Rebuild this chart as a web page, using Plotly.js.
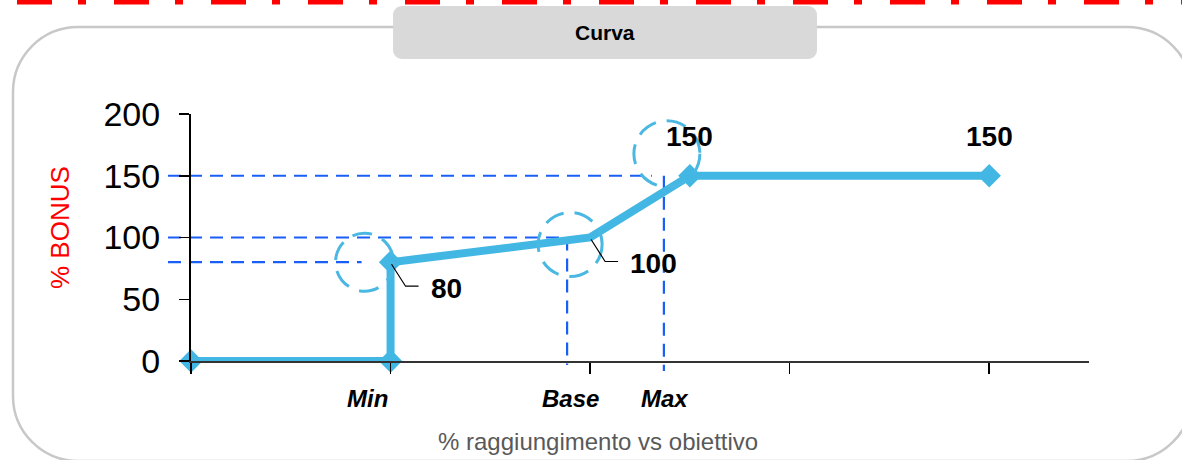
<!DOCTYPE html>
<html>
<head>
<meta charset="utf-8">
<script src="https://cdn.plot.ly/plotly-3.0.1.min.js"></script>
<style>
  html, body { margin: 0; padding: 0; background: #ffffff; }
  #chart { width: 1182px; height: 460px; }
</style>
</head>
<body>
<div id="chart"></div>
<script>
// ---------------- data ----------------
const achievement = [0, 1, 1, 2, 2.5, 4];          // position on the "% raggiungimento" axis
const bonus       = [0, 0, 80, 100, 150, 150];     // % BONUS
const showMarker  = [true, true, true, false, true, true];
const labelIdx    = [2, 3, 4, 5];                  // points carrying a value label
const xTickVals   = [0, 1, 2, 3, 4];
const yTickVals   = [0, 50, 100, 150, 200];
const thresholdNames = ['Min', 'Base', 'Max'];
const thresholdIdx   = [2, 3, 4];                  // Min -> (1,80), Base -> (2,100), Max -> (2.5,150)
const titleText  = 'Curva';
const xTitleText = '% raggiungimento vs obiettivo';
const yTitleText = '% BONUS';

// ---------------- geometry helpers ----------------
const W = 1182, H = 460;
const M = { l: 191, r: 93, t: 114, b: 99 };
const PW = W - M.l - M.r, PH = H - M.t - M.b;
const X_MAX = 4.5, Y_MAX = 200;
const px2x = px => (px - M.l) / PW;
const py2y = py => (H - M.b - py) / PH;
const xPix = v => M.l + v * PW / X_MAX;
const yPix = v => H - M.b - v * PH / Y_MAX;
const pt = (px, py) => px2x(px).toFixed(5) + ',' + py2y(py).toFixed(5);

const FONT = 'Arial, "Liberation Sans", sans-serif';
const LINE_BLUE = '#43b7e3';
const GUIDE_BLUE = '#1a5ff5';

function roundRect(x0, y0, x1, y1, r) {
  const k = 0.5523 * r;
  return 'M' + pt(x0 + r, y0) +
    ' L' + pt(x1 - r, y0) +
    ' C' + pt(x1 - r + k, y0) + ' ' + pt(x1, y0 + r - k) + ' ' + pt(x1, y0 + r) +
    ' L' + pt(x1, y1 - r) +
    ' C' + pt(x1, y1 - r + k) + ' ' + pt(x1 - r + k, y1) + ' ' + pt(x1 - r, y1) +
    ' L' + pt(x0 + r, y1) +
    ' C' + pt(x0 + r - k, y1) + ' ' + pt(x0, y1 - r + k) + ' ' + pt(x0, y1 - r) +
    ' L' + pt(x0, y0 + r) +
    ' C' + pt(x0, y0 + r - k) + ' ' + pt(x0 + r - k, y0) + ' ' + pt(x0 + r, y0) + ' Z';
}

const shapes = [];
const annotations = [];

// slide decorations
shapes.push({ type: 'line', xref: 'paper', yref: 'paper', layer: 'below',
  x0: px2x(17), x1: px2x(1200), y0: py2y(0), y1: py2y(0),
  line: { color: '#ff0000', width: 9, dash: '35px,26px,8px,28px' } });
shapes.push({ type: 'path', xref: 'paper', yref: 'paper', layer: 'below',
  path: roundRect(13, 27, 1192, 461, 65), line: { color: '#c8c8c8', width: 2.5 } });
shapes.push({ type: 'path', xref: 'paper', yref: 'paper', layer: 'below',
  path: roundRect(393, 6, 817, 59, 9), fillcolor: '#d9d9d9', line: { width: 0 } });
annotations.push({ xref: 'paper', yref: 'paper', x: px2x(605), y: py2y(33),
  xanchor: 'center', yanchor: 'middle', showarrow: false, text: '<b>' + titleText + '</b>',
  font: { family: FONT, size: 21, color: '#000000' } });

// guide (dashed) lines tied to the threshold points
const pMin = thresholdIdx[0], pBase = thresholdIdx[1], pMax = thresholdIdx[2];
const baseGuideX = xPix(achievement[pBase]) - 23;
const maxGuideX  = xPix(achievement[pMax]) - 26;
const guideStyle = { color: GUIDE_BLUE, width: 2.2, dash: '13px,8px' };
function guide(x0, y0, x1, y1) {
  shapes.push({ type: 'line', xref: 'paper', yref: 'paper', layer: 'below',
    x0: px2x(x0), y0: py2y(y0), x1: px2x(x1), y1: py2y(y1), line: guideStyle });
}
guide(168, yPix(bonus[pMax]), maxGuideX - 12, yPix(bonus[pMax]));
guide(168, yPix(bonus[pBase]), baseGuideX, yPix(bonus[pBase]));
guide(168, yPix(bonus[pMin]), xPix(achievement[pMin]) - 29, yPix(bonus[pMin]));
guide(baseGuideX, yPix(bonus[pBase]), baseGuideX, yPix(0) + 4);
guide(maxGuideX, yPix(bonus[pMax]), maxGuideX, yPix(0) + 10);

// dashed highlight circles
const circleDefs = [
  { i: pMin,  dx: -26, dy: 0,   r: 29 },
  { i: pBase, dx: -20, dy: 7,   r: 32 },
  { i: pMax,  dx: -23, dy: -22, r: 33 }
];
circleDefs.forEach(c => {
  const cx = xPix(achievement[c.i]) + c.dx, cy = yPix(bonus[c.i]) + c.dy;
  shapes.push({ type: 'circle', xref: 'paper', yref: 'paper', layer: 'above',
    x0: px2x(cx - c.r), x1: px2x(cx + c.r), y0: py2y(cy + c.r), y1: py2y(cy - c.r),
    line: { color: '#4ab8e2', width: 3, dash: '20px,11px' } });
});

// leader lines + value labels
function leader(i) {
  const x = xPix(achievement[i]), y = yPix(bonus[i]);
  shapes.push({ type: 'path', xref: 'paper', yref: 'paper', layer: 'above',
    path: 'M' + pt(x + 1, y + 2) + ' L' + pt(x + 15, y + 24) + ' L' + pt(x + 28, y + 24),
    line: { color: '#000000', width: 1.2 } });
}
leader(labelIdx[0]);
leader(labelIdx[1]);
labelIdx.forEach((i, k) => {
  const x = xPix(achievement[i]), y = yPix(bonus[i]);
  let ann;
  if (k < 2) {
    ann = { x: px2x(x + 38), y: py2y(y + 26), xanchor: 'left' };
  } else {
    ann = { x: px2x(x), y: py2y(y - 39), xanchor: 'center' };
  }
  annotations.push(Object.assign(ann, { xref: 'paper', yref: 'paper', yanchor: 'middle',
    showarrow: false, text: '<b>' + bonus[i] + '</b>',
    font: { family: FONT, size: 28, color: '#000000' } }));
});

// threshold names under the axis
const nameX = [xPix(achievement[pMin]) - 23, baseGuideX + 3, maxGuideX + 1];
thresholdNames.forEach((n, k) => {
  annotations.push({ xref: 'paper', yref: 'paper', x: px2x(nameX[k]), y: py2y(398),
    xanchor: 'center', yanchor: 'middle', showarrow: false,
    text: '<b><i>' + n + '</i></b>', font: { family: FONT, size: 24, color: '#000000' } });
});

// axis titles
annotations.push({ xref: 'paper', yref: 'paper', x: px2x(598), y: py2y(441),
  xanchor: 'center', yanchor: 'middle', showarrow: false, text: xTitleText,
  font: { family: FONT, size: 24, color: '#595959' } });
annotations.push({ xref: 'paper', yref: 'paper', x: px2x(60), y: py2y(228),
  xanchor: 'center', yanchor: 'middle', showarrow: false, textangle: -90, text: yTitleText,
  font: { family: FONT, size: 26, color: '#ff0000' } });

const lineTrace = {
  type: 'scatter', mode: 'lines',
  x: achievement, y: bonus, cliponaxis: false,
  line: { color: LINE_BLUE, width: 8 },
  hoverinfo: 'x+y', showlegend: false
};
const markerTrace = {
  type: 'scatter', mode: 'markers',
  x: achievement.filter((_, i) => showMarker[i]),
  y: bonus.filter((_, i) => showMarker[i]),
  cliponaxis: false,
  marker: { symbol: 'diamond', color: LINE_BLUE, size: 18, opacity: 1,
            line: { width: 0, color: LINE_BLUE } },
  hoverinfo: 'x+y', showlegend: false
};

const layout = {
  width: W, height: H,
  margin: M,
  paper_bgcolor: '#ffffff', plot_bgcolor: 'rgba(0,0,0,0)',
  showlegend: false,
  xaxis: {
    range: [0, X_MAX], tickvals: xTickVals, showticklabels: false,
    ticks: 'outside', ticklen: 11, tickwidth: 1.5, tickcolor: '#000000',
    showline: true, linecolor: '#333333', linewidth: 2,
    showgrid: false, zeroline: false, fixedrange: true
  },
  yaxis: {
    range: [0, Y_MAX], tickvals: yTickVals,
    ticks: 'outside', ticklen: 10, tickwidth: 1.5, tickcolor: '#000000',
    showline: true, linecolor: '#000000', linewidth: 2,
    showgrid: false, zeroline: false, fixedrange: true,
    tickfont: { family: FONT, size: 34, color: '#000000' },
    ticklabelstandoff: 12
  },
  shapes: shapes,
  annotations: annotations
};

Plotly.newPlot('chart', [lineTrace, markerTrace], layout, { displayModeBar: false, staticPlot: true });
</script>
</body>
</html>
